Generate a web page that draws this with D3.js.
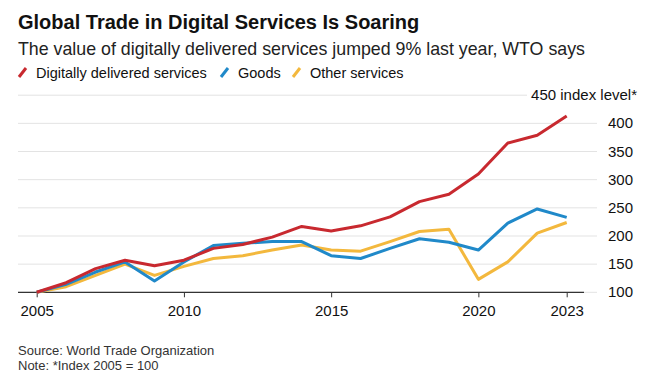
<!DOCTYPE html>
<html>
<head>
<meta charset="utf-8">
<script src="https://cdn.jsdelivr.net/npm/d3@7"></script>
<style>
  body { margin: 0; background: #fff; }
  svg text { font-family: "Liberation Sans", Arial, sans-serif; fill: #111; }
  .title { font-size: 20px; font-weight: bold; }
  .subtitle { font-size: 17.8px; fill: #222; }
  .legend text { font-size: 14.5px; }
  .tick-label { font-size: 15px; }
  .foot { font-size: 13px; fill: #333; }
</style>
</head>
<body>
<svg id="chart"></svg>
<script>
// chart data, index 2005 = 100
const years = d3.range(2005, 2024);
const digital = [100, 117, 142, 157, 147, 157, 178, 185, 198, 217, 209, 218, 234, 261, 274, 310, 365, 379, 413];
const goods   = [100, 114, 136, 154, 120, 154, 183, 187, 190, 190, 165, 160, 178, 195, 189, 175, 223, 248, 233];
const other   = [100, 110, 130, 150, 130, 146, 160, 165, 175, 184, 175, 173, 190, 208, 212, 123, 154, 205, 224];
const yTicks = [100, 150, 200, 250, 300, 350, 400, 450];
const xTicks = [2005, 2010, 2015, 2020, 2023];

const series = [
  {name: 'Digitally delivered services', values: digital, color: '#c8292f'},
  {name: 'Goods', values: goods, color: '#2089c9'},
  {name: 'Other services', values: other, color: '#f3b83d'}
];

const width = 651, height = 376;

const svg = d3.select('#chart')
  .attr('width', width)
  .attr('height', height);

const x = d3.scaleLinear().domain([2005, 2023]).range([36.7, 566.7]);
const y = d3.scaleLinear().domain([100, 450]).range([292.3, 95.2]);

// header
svg.append('text').attr('class', 'title').attr('x', 18).attr('y', 29)
  .text('Global Trade in Digital Services Is Soaring');
svg.append('text').attr('class', 'subtitle').attr('x', 18).attr('y', 55)
  .text('The value of digitally delivered services jumped 9% last year, WTO says');

// legend
const legendX = [18, 220, 292];
const legend = svg.append('g').attr('class', 'legend');
series.forEach((s, i) => {
  const g = legend.append('g').attr('transform', `translate(${legendX[i]},78)`);
  g.append('line')
    .attr('x1', 1).attr('y1', -1).attr('x2', 8).attr('y2', -10)
    .attr('stroke', s.color).attr('stroke-width', 3);
  g.append('text').attr('x', 18).attr('y', 0).text(s.name);
});

// gridlines
const grid = svg.append('g');
grid.selectAll('line')
  .data(yTicks)
  .join('line')
  .attr('x1', 18)
  .attr('x2', d => d === 450 ? 527 : 597)
  .attr('y1', d => y(d)).attr('y2', d => y(d))
  .attr('stroke', '#e3e3e3')
  .attr('stroke-width', 1);

// y labels
svg.append('g').selectAll('text')
  .data(yTicks)
  .join('text')
  .attr('class', 'tick-label')
  .attr('x', d => d === 450 ? 637 : 633)
  .attr('y', d => y(d) + 5)
  .attr('text-anchor', 'end')
  .text(d => d === 450 ? '450 index level*' : d);

// x axis
const xAxis = d3.axisBottom(x)
  .tickValues(xTicks)
  .tickFormat(d3.format('d'))
  .tickSize(5)
  .tickPadding(8);

const xAxisG = svg.append('g')
  .attr('transform', `translate(0,${y(100)})`)
  .call(xAxis);
xAxisG.select('.domain').remove();
xAxisG.selectAll('.tick line').attr('stroke', '#333');
xAxisG.selectAll('.tick text')
  .attr('class', 'tick-label')
  .attr('fill', '#111')
  .style('font-size', '15px')
  .style('font-family', '"Liberation Sans", Arial, sans-serif');

svg.append('line')
  .attr('x1', 18).attr('x2', 584)
  .attr('y1', y(100)).attr('y2', y(100))
  .attr('stroke', '#333').attr('stroke-width', 1.2);

// lines, drawn so red ends up on top
const line = d3.line()
  .x((d, i) => x(years[i]))
  .y(d => y(d));

svg.append('g').selectAll('path')
  .data([series[2], series[1], series[0]])
  .join('path')
  .attr('d', d => line(d.values))
  .attr('fill', 'none')
  .attr('stroke', d => d.color)
  .attr('stroke-width', 3)
  .attr('stroke-linejoin', 'round');

// footer
svg.append('text').attr('class', 'foot').attr('x', 18).attr('y', 355)
  .text('Source: World Trade Organization');
svg.append('text').attr('class', 'foot').attr('x', 18).attr('y', 370)
  .text('Note: *Index 2005 = 100');
</script>
</body>
</html>
